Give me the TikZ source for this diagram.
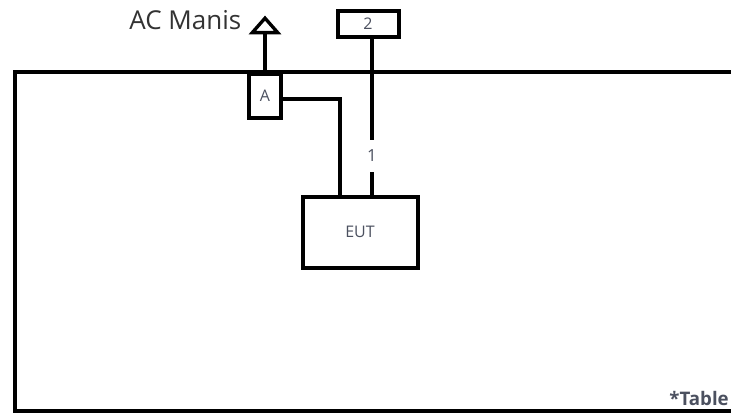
\documentclass[tikz,border=0pt]{standalone}
\usepackage{fontspec}
\setmainfont{Open Sans}
\usetikzlibrary{arrows.meta}
\definecolor{labelgray}{RGB}{75,80,95}

\begin{document}
\begin{tikzpicture}[x=0.75pt,y=-0.75pt]
		\tikzset{thickline/.style={line width=3pt,black}};
		\tikzset{smallbox/.style={draw,line width=3pt,inner sep=0pt,font=\fontsize{12}{14}\selectfont,text=labelgray}};
		\useasboundingbox (0,0) rectangle (731,417);
		% table
		\draw[thickline] (731,72) -- (15,72) -- (15,411) -- (731,411);
		\node[anchor=south east,inner sep=0pt,font=\fontsize{14}{16}\selectfont\bfseries,text=labelgray] (table) at (729,406) {*Table};
		% boxes
		\node[smallbox,minimum width=30pt*0.8,minimum height=42pt*0.8] (A) at (265,96) {A};
		\node[smallbox,minimum width=61pt*0.75,minimum height=26pt*0.75] (two) at (368,24) {2};
		\node[smallbox,minimum width=115pt*0.75,minimum height=71pt*0.75] (eut) at (360,232) {EUT};
		\coordinate (bend) at (340,99);
		% cables
		\draw[thickline,-{Triangle[open,width=24pt,length=14pt,line width=2.5pt]}] (A.north) -- ++(0,-56) coordinate (acend);
		\node[anchor=east,font=\fontsize{19.5}{22}\selectfont,text=black!80] (acman) at (246,20) {AC Manis};
		\draw[thickline] (A.east |- bend) -- (bend) -- (bend |- eut.north);
		\draw[thickline] (two.south -| 372,0) -- (372,140) coordinate (cut);
		\node[font=\fontsize{12.5}{14}\selectfont,text=labelgray] (one) at (372,156) {1};
		\draw[thickline] (372,172) -- (eut.north -| 372,0);
\end{tikzpicture}
\end{document}
